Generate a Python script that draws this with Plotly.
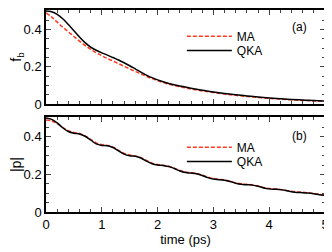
import plotly.graph_objects as go
from plotly.subplots import make_subplots

t_fb = [0, 0.1, 0.2, 0.3, 0.4, 0.5, 0.6, 0.7, 0.8, 0.9, 1.0, 1.1, 1.2, 1.3, 1.4, 1.5, 1.6, 1.7, 1.8, 1.9,
        2.0, 2.2, 2.4, 2.6, 2.8, 3.0, 3.2, 3.4, 3.6, 3.8, 4.0, 4.2, 4.4, 4.6, 4.8, 5.0]
fb_qka = [0.500, 0.496, 0.482, 0.458, 0.427, 0.394, 0.360, 0.330, 0.306, 0.289, 0.275, 0.263, 0.250, 0.237,
          0.222, 0.206, 0.189, 0.172, 0.156, 0.142, 0.130, 0.111, 0.097, 0.085, 0.074, 0.065, 0.057, 0.050,
          0.044, 0.038, 0.033, 0.029, 0.025, 0.022, 0.019, 0.017]
fb_ma = [0.490, 0.468, 0.440, 0.413, 0.388, 0.363, 0.338, 0.315, 0.294, 0.276, 0.260, 0.245, 0.231, 0.217,
         0.203, 0.189, 0.175, 0.162, 0.149, 0.137, 0.126, 0.107, 0.093, 0.081, 0.071, 0.062, 0.054, 0.047,
         0.041, 0.036, 0.031, 0.027, 0.023, 0.020, 0.017, 0.015]

t_p = [round(0.1 * i, 1) for i in range(51)]
p_qka = [0.500, 0.493, 0.474, 0.448, 0.428, 0.419, 0.415, 0.403, 0.383, 0.362, 0.354, 0.352, 0.343, 0.325,
         0.308, 0.299, 0.296, 0.287, 0.271, 0.257, 0.250, 0.247, 0.242, 0.231, 0.218, 0.210, 0.207, 0.203,
         0.194, 0.183, 0.175, 0.172, 0.169, 0.162, 0.153, 0.147, 0.145, 0.143, 0.137, 0.128, 0.123, 0.121,
         0.119, 0.114, 0.108, 0.104, 0.103, 0.101, 0.097, 0.092, 0.088]
p_ma = [0.490, 0.485, 0.470, 0.450, 0.432, 0.423, 0.418, 0.405, 0.386, 0.368, 0.358, 0.354, 0.345, 0.328,
        0.312, 0.303, 0.298, 0.289, 0.274, 0.260, 0.253, 0.249, 0.243, 0.233, 0.221, 0.213, 0.209, 0.204,
        0.196, 0.186, 0.178, 0.174, 0.170, 0.163, 0.155, 0.150, 0.147, 0.144, 0.138, 0.130, 0.125, 0.123,
        0.120, 0.115, 0.110, 0.107, 0.105, 0.102, 0.098, 0.094, 0.090]

RED = "#ff3b1f"
FONT = "Liberation Sans, Arial, sans-serif"

fig = make_subplots(rows=2, cols=1, shared_xaxes=False, vertical_spacing=0.064)

fig.add_trace(go.Scatter(x=t_fb, y=fb_ma, mode="lines", name="MA", showlegend=True,
                         line=dict(color=RED, width=1.5, dash="4px,2px"),
                         line_shape="spline", legend="legend"), row=1, col=1)
fig.add_trace(go.Scatter(x=t_fb, y=fb_qka, mode="lines", name="QKA", showlegend=True,
                         line=dict(color="black", width=1.5),
                         line_shape="spline", legend="legend2"), row=1, col=1)
fig.add_trace(go.Scatter(x=t_p, y=p_ma, mode="lines", name="MA", showlegend=True,
                         line=dict(color=RED, width=1.5, dash="4px,2px"),
                         line_shape="spline", legend="legend3"), row=2, col=1)
fig.add_trace(go.Scatter(x=t_p, y=p_qka, mode="lines", name="QKA", showlegend=True,
                         line=dict(color="black", width=1.5),
                         line_shape="spline", legend="legend4"), row=2, col=1)

xax = dict(range=[0, 5], tickvals=[0, 1, 2, 3, 4, 5], ticks="inside", ticklen=5, tickwidth=1,
           showline=True, linecolor="black", linewidth=1.5, mirror="allticks", showgrid=False, zeroline=False,
           minor=dict(dtick=0.2, ticks="inside", ticklen=3, tickwidth=1, showgrid=False),
           tickfont=dict(size=13, color="black", family=FONT))
yax = dict(range=[0, 0.505], tickvals=[0, 0.2, 0.4], ticktext=["0", "0.2", "0.4"], ticks="inside", ticklen=5,
           tickwidth=1, showline=True, linecolor="black", linewidth=1.5, mirror="allticks", showgrid=False,
           zeroline=False, minor=dict(dtick=0.05, ticks="inside", ticklen=3, tickwidth=1, showgrid=False),
           tickfont=dict(size=13, color="black", family=FONT))

fig.update_xaxes(**xax)
fig.update_xaxes(showticklabels=False, row=1, col=1)
fig.update_xaxes(title=dict(text="time (ps)", font=dict(size=13, color="black", family=FONT), standoff=2), row=2, col=1)
fig.update_yaxes(**yax)
fig.update_yaxes(domain=[0.534, 1.0], row=1, col=1)
fig.update_yaxes(domain=[0.0, 0.47], row=2, col=1)
fig.update_yaxes(title=dict(text="f<sub>b</sub>", font=dict(size=14, color="black", family=FONT), standoff=4), row=1, col=1)
fig.update_yaxes(title=dict(text="|p|", font=dict(size=14, color="black", family=FONT), standoff=4), row=2, col=1)

leg = dict(xanchor="left", yanchor="middle", bgcolor="rgba(0,0,0,0)", font=dict(size=12, family=FONT, color="black"),
           itemwidth=45, borderwidth=0, visible=True)
# figure is drawn inside the page body's 8px margin
fig.update_layout(
    width=324, height=244,
    margin=dict(l=38, r=7, t=0, b=40),
    paper_bgcolor="white", plot_bgcolor="white",
    font=dict(family=FONT, size=12, color="black"),
    showlegend=True,
    legend=dict(x=0.487, y=0.87, **leg),
    legend2=dict(x=0.487, y=0.80, **leg),
    legend3=dict(x=0.487, y=0.32, **leg),
    legend4=dict(x=0.487, y=0.25, **leg),
    annotations=[
        dict(text="(a)", x=0.91, y=0.915, xref="paper", yref="paper", showarrow=False,
             xanchor="center", yanchor="middle", font=dict(size=12, color="black", family=FONT)),
        dict(text="(b)", x=0.91, y=0.375, xref="paper", yref="paper", showarrow=False,
             xanchor="center", yanchor="middle", font=dict(size=12, color="black", family=FONT)),
    ],
)

fig.write_html("out.html")
